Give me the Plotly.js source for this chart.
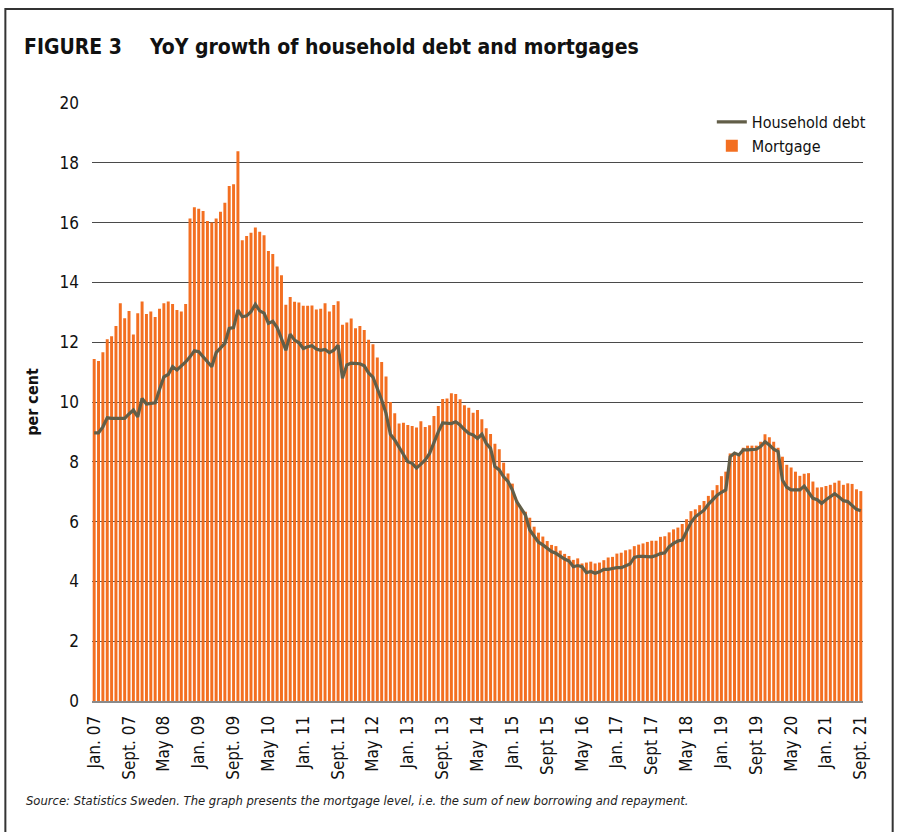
<!DOCTYPE html>
<html>
<head>
<meta charset="utf-8">
<script src="https://cdn.plot.ly/plotly-3.0.1.min.js"></script>
<style>
html,body{margin:0;padding:0;background:#fff;}
#chart{width:898px;height:832px;}
</style>
</head>
<body>
<div id="chart"></div>
<script>
// Monthly categories Jan 2007 .. Sept 2021
var startYear = 2007, nMonths = 177;
var months = [];
for (var k = 0; k < nMonths; k++) {
  var y = startYear + Math.floor(k / 12), m = (k % 12) + 1;
  months.push(y + '-' + (m < 10 ? '0' + m : m));
}

// YoY growth of mortgages (per cent), bars
var mortgage = [
  11.44, 11.37, 11.66, 12.1, 12.2, 12.54, 13.3, 12.8, 13.04, 12.26, 12.97, 13.36, 12.94, 13.03, 12.84, 13.12, 13.3, 13.36, 13.28, 13.08, 13.03, 13.28,
  16.14, 16.51, 16.46, 16.39, 16.05, 16.0,
  16.14, 16.36, 16.66, 17.22, 17.28, 18.39,
  15.41, 15.55, 15.66, 15.84, 15.69, 15.58, 15.05, 14.95, 14.53, 14.24,
  13.25, 13.51, 13.35, 13.33, 13.22, 13.22, 13.23, 13.09, 13.12, 13.30, 13.03, 13.24, 13.37,
  12.58, 12.66, 12.79, 12.47, 12.54, 12.41, 12.08, 11.93, 11.49, 11.34, 10.85, 10.0, 9.62, 9.28, 9.31, 9.23, 9.2, 9.15, 9.36, 9.16, 9.22, 9.53, 9.87, 10.1, 10.12, 10.29, 10.27, 10.09, 9.89, 9.81,
  9.64, 9.73, 9.42, 9.12, 8.93, 8.6, 8.42, 7.97, 7.61, 7.27, 6.72, 6.44, 6.33, 6.13, 5.83, 5.63, 5.5, 5.35, 5.22, 5.18, 5.03, 4.92, 4.85, 4.72, 4.77, 4.6, 4.63, 4.66,
  4.6, 4.63, 4.71, 4.8, 4.82, 4.93, 4.96, 5.04, 5.07, 5.18, 5.23, 5.27, 5.32, 5.36, 5.36, 5.49, 5.51, 5.64, 5.74, 5.8, 5.92, 6.08, 6.35, 6.41, 6.55, 6.69, 6.86, 7.05, 7.22, 7.52, 7.67,
  8.28, 8.3, 8.23, 8.47, 8.54, 8.54, 8.54, 8.67, 8.92, 8.82, 8.67, 8.47, 8.17, 7.9, 7.81, 7.67, 7.53, 7.6, 7.62, 7.34, 7.14, 7.15, 7.19, 7.23, 7.3, 7.37, 7.23, 7.28, 7.26, 7.08, 7.02
];

// YoY growth of household debt (per cent), line
var householdDebt = [
  8.97, 8.97, 9.17, 9.47, 9.45, 9.45, 9.47, 9.45, 9.6, 9.73, 9.5, 10.12, 9.93, 9.95, 9.97, 10.42, 10.84, 10.92, 11.18, 11.07, 11.2, 11.34,
  11.51, 11.71, 11.68, 11.51, 11.34, 11.18,
  11.65, 11.82, 11.96, 12.46, 12.49, 13.07, 12.85, 12.88, 13.02, 13.27, 13.05, 12.97, 12.63, 12.70, 12.49, 12.12, 11.73, 12.27, 12.07, 11.98, 11.79, 11.85, 11.88, 11.77, 11.73, 11.76, 11.65, 11.73, 11.9, 10.79,
  11.24, 11.3, 11.28, 11.28, 11.21, 10.97, 10.83, 10.46, 10.07, 9.62, 8.92, 8.73, 8.5, 8.23, 8.0, 7.95, 7.79, 7.92, 8.06, 8.28, 8.65, 9.0, 9.3, 9.28, 9.28, 9.34, 9.23, 9.08, 8.95,
  8.9, 8.78, 8.92, 8.62, 8.45, 7.84, 7.73, 7.5, 7.34, 7.06, 6.67, 6.44, 6.22, 5.72, 5.5, 5.31, 5.22, 5.11, 5.0, 4.94, 4.83, 4.75, 4.68, 4.49, 4.53, 4.49, 4.29, 4.33,
  4.27, 4.32, 4.4, 4.4, 4.43, 4.46, 4.46, 4.52, 4.58, 4.8, 4.84, 4.84, 4.82, 4.82, 4.87, 4.93, 4.96, 5.16, 5.27, 5.35, 5.38, 5.66, 5.97, 6.16, 6.27, 6.38, 6.58, 6.74, 6.88, 6.98, 7.06,
  8.17, 8.29, 8.23, 8.4, 8.4, 8.4, 8.42, 8.51, 8.67, 8.56, 8.42, 8.34, 7.39, 7.15, 7.06, 7.06, 7.06, 7.19, 7.0, 6.78, 6.73, 6.61, 6.73, 6.84, 6.93, 6.82, 6.7, 6.67, 6.53, 6.41, 6.36
];

var tickMonths = ['2007-01','2007-09','2008-05','2009-01','2009-09','2010-05','2011-01','2011-09','2012-05','2013-01','2013-09','2014-05','2015-01','2015-09','2016-05','2017-01','2017-09','2018-05','2019-01','2019-09','2020-05','2021-01','2021-09'];
var tickLabels = ['Jan. 07','Sept. 07','May 08','Jan. 09','Sept. 09','May 10','Jan. 11','Sept. 11','May 12','Jan. 13','Sept. 13','May 14','Jan. 15','Sept 15','May 16','Jan. 17','Sept 17','May 18','Jan. 19','Sept 19','May 20','Jan. 21','Sept. 21'];
var yTicks = [0,2,4,6,8,10,12,14,16,18,20];

var FONT = '"Liberation Sans Narrow", "DejaVu Sans Condensed", "Arial Narrow", "Liberation Sans", sans-serif';

var traces = [
  {
    type: 'scatter', mode: 'lines', name: 'Household debt',
    x: months, y: householdDebt,
    line: {color: '#625E48', width: 3.2},
    hoverinfo: 'skip'
  },
  {
    type: 'bar', name: 'Mortgage',
    x: months, y: mortgage,
    marker: {color: '#F36F21', line: {width: 0}},
    hoverinfo: 'skip'
  }
];

var L = 91.7, R = 863.3, T = 103, B = 701;
var W = R - L, H = B - T;
function px(x){ return (x - L) / W; }
function py(y){ return (B - y) / H; }

var layout = {
  width: 898, height: 832,
  margin: {l: L, r: 898 - R, t: T, b: 832 - B, pad: 0},
  paper_bgcolor: '#fff', plot_bgcolor: '#fff',
  font: {family: FONT, color: '#111', size: 16},
  showlegend: true,
  bargap: 0.32,
  legend: {
    x: px(712), y: py(105), xanchor: 'left', yanchor: 'top',
    bgcolor: 'rgba(0,0,0,0)', font: {family: FONT, size: 16, color: '#111'},
    tracegroupgap: 4
  },
  xaxis: {
    type: 'category', range: [-0.5, nMonths - 0.5],
    tickmode: 'array', tickvals: tickMonths, ticktext: tickLabels,
    tickangle: -90, ticks: '', ticklabelstandoff: 6,
    tickfont: {family: FONT, size: 17, color: '#111'},
    showgrid: false, zeroline: false,
    showline: true, linecolor: '#8a8a8a', linewidth: 2
  },
  yaxis: {
    range: [0, 20], tickvals: yTicks, ticks: '',
    ticklabelstandoff: 12,
    tickfont: {family: FONT, size: 17, color: '#111'},
    showgrid: true, gridcolor: '#4a4a4a', gridwidth: 1,
    zeroline: false, showline: false,
    title: {text: '<b>per cent</b>', font: {family: FONT, size: 16, color: '#111'}, standoff: 16}
  },
  shapes: [
    {type: 'rect', xref: 'paper', yref: 'paper', x0: px(5), x1: px(893), y0: py(845), y1: py(9),
     line: {color: '#333', width: 2}, fillcolor: 'rgba(0,0,0,0)', layer: 'above'}
  ],
  annotations: [
    {xref: 'paper', yref: 'paper', x: px(22), y: py(47), xanchor: 'left', yanchor: 'middle', showarrow: false,
     text: '<b>FIGURE 3</b>', font: {family: FONT, size: 21, color: '#111'}},
    {xref: 'paper', yref: 'paper', x: px(147), y: py(47), xanchor: 'left', yanchor: 'middle', showarrow: false,
     text: '<b>YoY growth of household debt and mortgages</b>', font: {family: FONT, size: 21, color: '#111'}},
    {xref: 'paper', yref: 'paper', x: px(24), y: py(801), xanchor: 'left', yanchor: 'middle', showarrow: false,
     text: '<i>Source: Statistics Sweden. The graph presents the mortgage level, i.e. the sum of new borrowing and repayment.</i>',
     font: {family: FONT, size: 12.9, color: '#222'}}
  ]
};

Plotly.newPlot('chart', traces, layout, {staticPlot: true, displayModeBar: false});
</script>
</body>
</html>
